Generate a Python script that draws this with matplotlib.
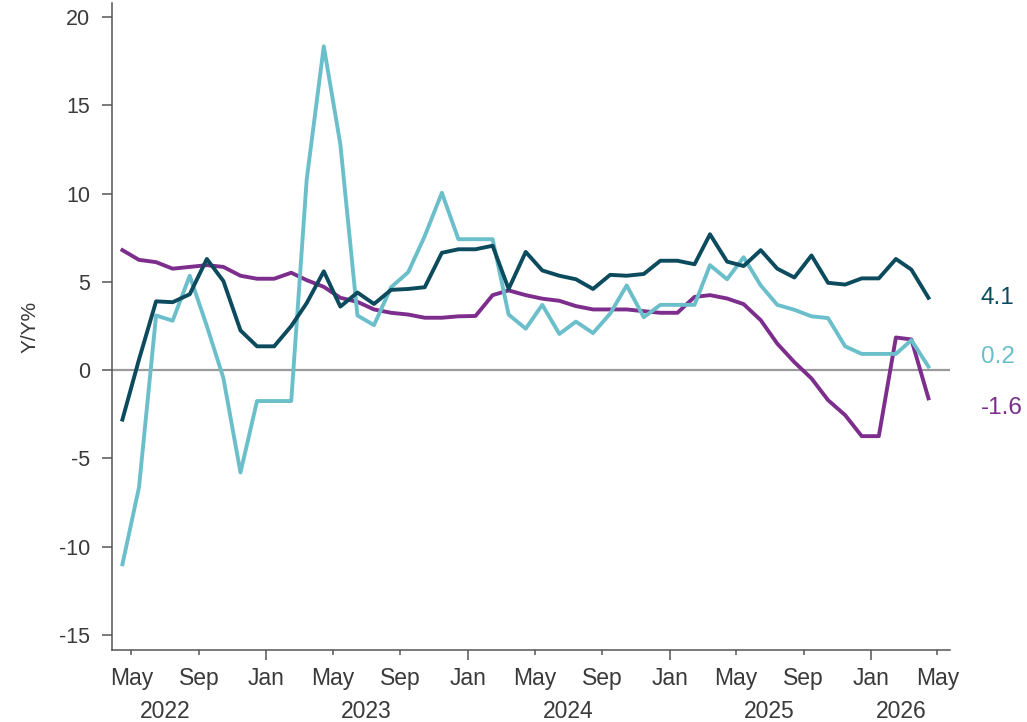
import matplotlib
matplotlib.use("Agg")
import matplotlib.pyplot as plt
import matplotlib.transforms as mtrans
import numpy as np
import pandas as pd

plt.rcParams['font.family'] = ['Liberation Sans', 'DejaVu Sans']
plt.rcParams['axes.unicode_minus'] = False

# Monthly data, Apr 2022 - Apr 2026 (plotted mid-month)
dates = pd.date_range('2022-04-01', periods=49, freq='MS') + pd.Timedelta(days=14)

series_dark = [-2.8, 0.6, 3.9, 3.85, 4.3, 6.3, 5.05, 2.25, 1.35, 1.35,
               2.5, 3.8, 5.6, 3.6, 4.4, 3.75, 4.55, 4.6, 4.7, 6.65,
               6.85, 6.85, 7.05, 4.6, 6.7, 5.65, 5.35, 5.15, 4.6, 5.4,
               5.35, 5.45, 6.2, 6.2, 6.0, 7.7, 6.15, 5.9, 6.8, 5.75,
               5.25, 6.5, 4.95, 4.85, 5.2, 5.2, 6.3, 5.7, 4.1]

series_light = [-11.0, -6.65, 3.1, 2.8, 5.35, 2.5, -0.45, -5.8, -1.75, -1.75,
                -1.75, 10.8, 18.35, 12.8, 3.1, 2.55, 4.7, 5.55, 7.6, 10.05,
                7.42, 7.42, 7.42, 3.15, 2.35, 3.7, 2.05, 2.75, 2.1, 3.2,
                4.8, 3.0, 3.7, 3.7, 3.7, 5.95, 5.15, 6.4, 4.8, 3.7,
                3.42, 3.05, 2.95, 1.35, 0.92, 0.92, 0.92, 1.7, 0.2]

series_purple = [6.8, 6.25, 6.12, 5.75, 5.85, 5.95, 5.85, 5.35, 5.18, 5.18,
                 5.52, 5.1, 4.72, 4.1, 3.87, 3.44, 3.25, 3.15, 2.97, 2.97,
                 3.05, 3.07, 4.25, 4.52, 4.25, 4.05, 3.93, 3.63, 3.44, 3.44,
                 3.44, 3.34, 3.25, 3.25, 4.15, 4.25, 4.06, 3.74, 2.83, 1.5,
                 0.45, -0.47, -1.7, -2.55, -3.74, -3.74, 1.85, 1.74, -1.6]

end_labels = ['4.1', '0.2', '-1.6']
end_label_y = [4.1, 0.75, -2.15]

month_ticks = pd.date_range('2022-05-01', '2026-05-01', freq='4MS')
year_labels = ['2022', '2023', '2024', '2025', '2026']
year_label_dates = pd.to_datetime(['2022-07-01', '2023-07-01', '2024-07-01',
                                   '2025-07-01', '2026-02-25'])

c_dark = '#0c4a5d'
c_light = '#6bbfca'
c_purple = '#7d2e8d'
c_axis = '#555555'
c_text = '#3a3a3a'

fig = plt.figure(figsize=(10.27, 7.22), dpi=100)
ax = fig.add_axes([0.109, 0.0997, 0.816, 0.896])

ax.axhline(0, color='#9a9a9a', lw=1.6, zorder=1)
ax.plot(dates, series_light, color=c_light, lw=2.8, zorder=3)
ax.plot(dates, series_dark, color=c_dark, lw=2.8, zorder=4)
ax.plot(dates, series_purple, color=c_purple, lw=2.8, zorder=2)

ax.set_ylim(-15.86, 20.8)
ax.set_xlim(pd.Timestamp('2022-03-27'), pd.Timestamp('2026-05-24'))
ax.set_yticks(np.arange(-15, 21, 5))
ax.set_yticklabels([str(v) for v in np.arange(-15, 21, 5)])

for s in ['top', 'right']:
    ax.spines[s].set_visible(False)
for s in ['left', 'bottom']:
    ax.spines[s].set_color(c_axis)
    ax.spines[s].set_linewidth(1.1)

ax.tick_params(axis='y', length=7.5, width=1.1, color=c_axis, labelcolor=c_text,
               labelsize=15.5, pad=8)

jan_ticks = [d for d in month_ticks if d.month == 1]
other_ticks = [d for d in month_ticks if d.month != 1]
ax.set_xticks(other_ticks)
ax.set_xticklabels([d.strftime('%b') for d in other_ticks])
ax.set_xticks(jan_ticks, minor=True)
ax.set_xticklabels([d.strftime('%b') for d in jan_ticks], minor=True)
ax.tick_params(axis='x', which='major', length=3.5, width=1.1, color=c_axis,
               labelcolor=c_text, labelsize=16.5, pad=9)
ax.tick_params(axis='x', which='minor', length=7, width=1.1, color=c_axis,
               labelcolor=c_text, labelsize=16.5, pad=5.5)

trans_x = mtrans.blended_transform_factory(ax.transData, ax.transAxes)
for lab, d in zip(year_labels, year_label_dates):
    ax.text(d, -0.077, lab, transform=trans_x, ha='center', va='top',
            fontsize=16.5, color=c_text)

trans_y = mtrans.blended_transform_factory(ax.transAxes, ax.transData)
for lab, yv, col in zip(end_labels, end_label_y, [c_dark, c_light, c_purple]):
    ax.text(1.037, yv, lab, transform=trans_y, ha='left', va='center',
            fontsize=17.5, color=col)

ax.set_ylabel('Y/Y%', fontsize=15, color=c_text, labelpad=14)

fig.savefig('out.png', dpi=100)
